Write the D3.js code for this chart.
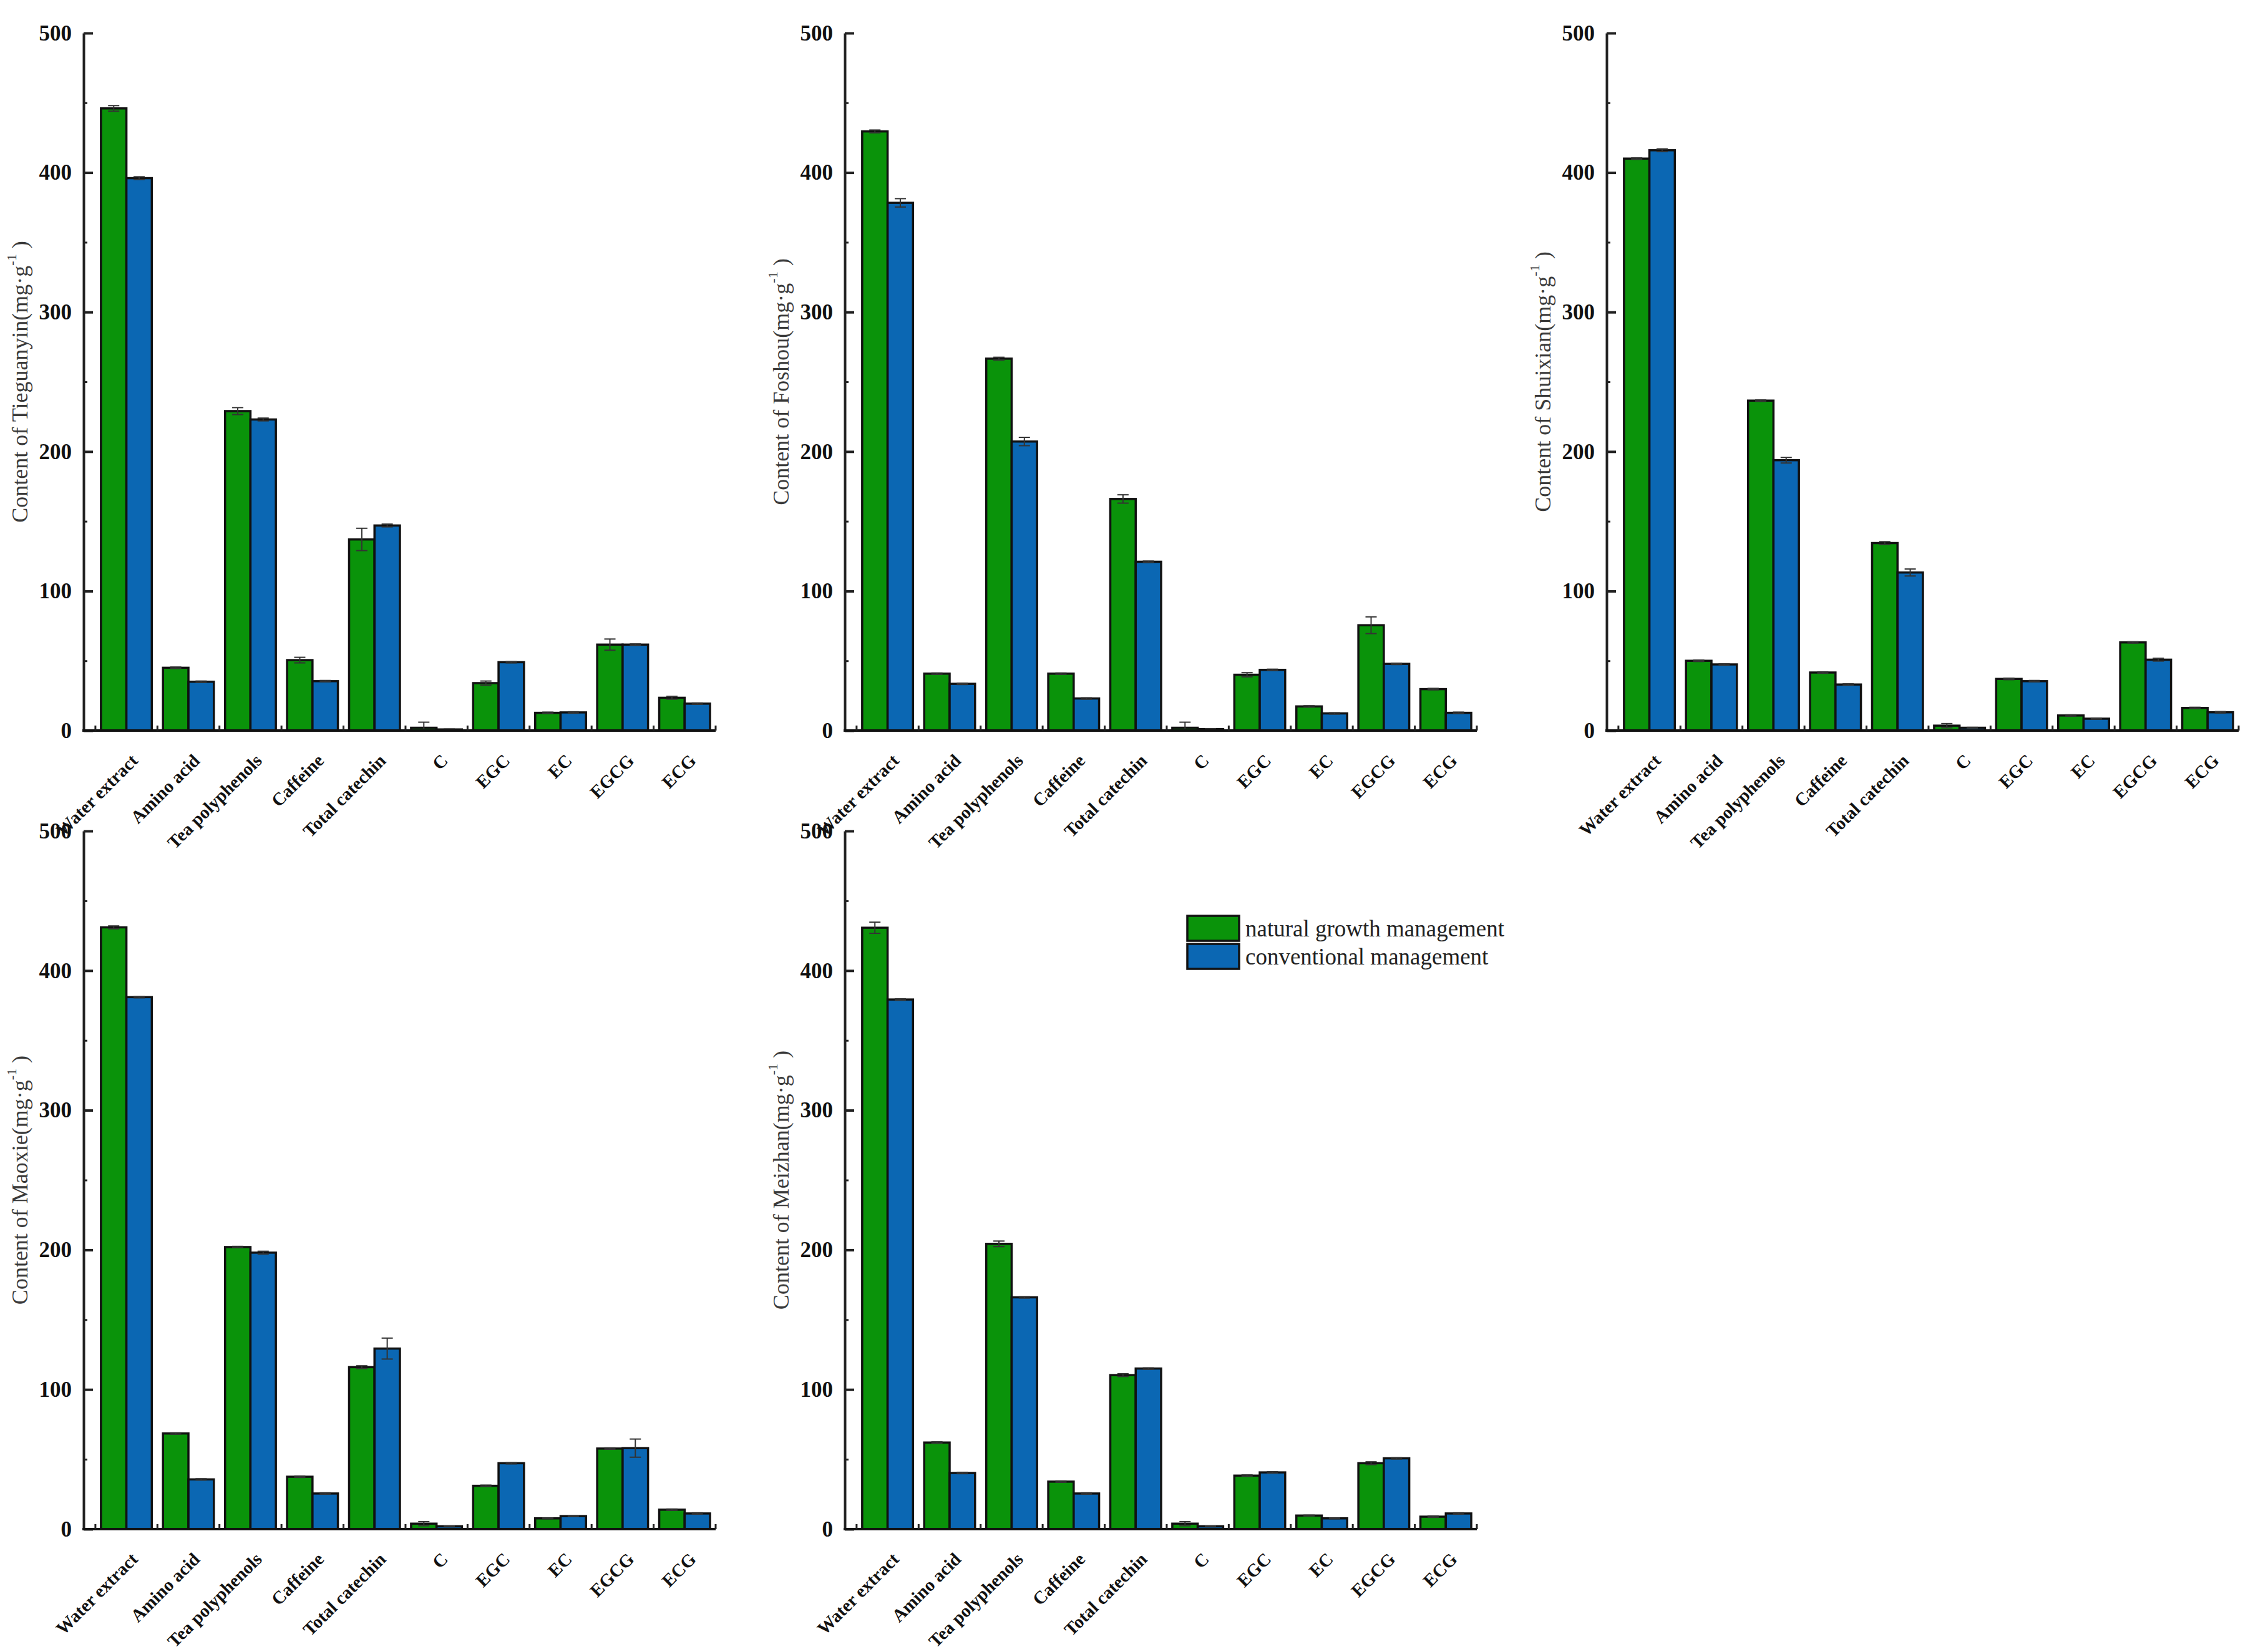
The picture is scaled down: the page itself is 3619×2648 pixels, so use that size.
<!DOCTYPE html>
<html>
<head>
<meta charset="utf-8">
<script src="https://cdn.jsdelivr.net/npm/d3@7"></script>
<style>
  html, body { margin: 0; padding: 0; background: #fff; }
  svg { display: block; }
</style>
</head>
<body>
<svg id="chart" width="3619" height="2648"></svg>
<script>
// ---------------- DATA ----------------
const categories = ["Water extract", "Amino acid", "Tea polyphenols", "Caffeine", "Total catechin", "C", "EGC", "EC", "EGCG", "ECG"];
const seriesNames = ["natural growth management", "conventional management"];
const yTicks = [0, 100, 200, 300, 400, 500];
const yMinorTicks = [50, 150, 250, 350, 450];

const teaNames = ["Tieguanyin", "Foshou", "Shuixian", "Maoxie", "Meizhan"];

const tieguanyinNatural      = [446, 45, 229, 50.5, 137, 2, 34, 12.7, 61.6, 23.5];
const tieguanyinNaturalErr   = [2, 0.5, 2.5, 2, 8, 4, 1.5, 0.5, 4, 1];
const tieguanyinConvention   = [396, 35, 223, 35.4, 147, 0.8, 49, 13, 61.6, 19.3];
const tieguanyinConventErr   = [1, 0.5, 1, 0.5, 1, 0.3, 0.5, 0.5, 0.5, 0.5];

const foshouNatural          = [429.5, 40.8, 266.6, 40.8, 166, 2, 40, 17.3, 75.5, 29.7];
const foshouNaturalErr       = [1, 0.5, 1, 0.5, 3, 4, 1.5, 0.5, 6, 0.5];
const foshouConvention       = [378.3, 33.5, 207.2, 23, 121, 1, 43.5, 12.3, 47.8, 12.7];
const foshouConventErr       = [3, 0.5, 3, 0.5, 0.5, 0.3, 0.5, 0.5, 0.5, 0.5];

const shuixianNatural        = [410, 50, 236.5, 41.6, 134.4, 3.5, 37, 10.8, 63.2, 16.2];
const shuixianNaturalErr     = [0.5, 0.5, 0.5, 0.5, 1, 1.5, 0.5, 0.5, 0.5, 0.5];
const shuixianConvention     = [416, 47.4, 193.8, 33, 113.3, 2, 35.4, 8.5, 50.8, 13.1];
const shuixianConventErr     = [1, 0.5, 2, 0.5, 2.5, 0.3, 0.5, 0.3, 1, 0.5];

const maoxieNatural          = [431, 68.5, 202, 37.5, 116, 3.9, 31, 7.7, 57.7, 13.9];
const maoxieNaturalErr       = [1, 0.5, 0.5, 0.5, 1, 1.5, 0.5, 0.3, 0.5, 0.5];
const maoxieConvention       = [381, 35.6, 198, 25.5, 129.3, 2, 47.2, 9.3, 58, 11.2];
const maoxieConventErr       = [0.5, 0.5, 1, 0.5, 7.5, 0.3, 0.5, 0.3, 6.5, 0.5];

const meizhanNatural         = [430.7, 62, 204.3, 34, 110.3, 3.9, 38.3, 9.7, 47.2, 8.9];
const meizhanNaturalErr      = [4, 0.5, 2, 0.5, 1, 1.5, 0.5, 0.3, 1, 0.5];
const meizhanConvention      = [379.3, 40.2, 166, 25.5, 115, 2, 40.6, 7.7, 50.7, 11.2];
const meizhanConventErr      = [0.5, 0.5, 0.5, 0.5, 0.5, 0.3, 0.5, 0.3, 0.5, 0.5];

// ---------------- LAYOUT / STYLE ----------------
const colors = ["#0a930a", "#0b67b3"];
const W = 1013;            // axis length
const lead = 0.19;         // leading offset in bands before first category boundary
const panels = [
  { name: teaNames[0], vals: [tieguanyinNatural, tieguanyinConvention], errs: [tieguanyinNaturalErr, tieguanyinConventErr], x0: 134,  top: 53,   bottom: 1171 },
  { name: teaNames[1], vals: [foshouNatural, foshouConvention],         errs: [foshouNaturalErr, foshouConventErr],         x0: 1354, top: 53,   bottom: 1171 },
  { name: teaNames[2], vals: [shuixianNatural, shuixianConvention],     errs: [shuixianNaturalErr, shuixianConventErr],     x0: 2575, top: 53,   bottom: 1171 },
  { name: teaNames[3], vals: [maoxieNatural, maoxieConvention],         errs: [maoxieNaturalErr, maoxieConventErr],         x0: 134,  top: 1332, bottom: 2451 },
  { name: teaNames[4], vals: [meizhanNatural, meizhanConvention],       errs: [meizhanNaturalErr, meizhanConventErr],       x0: 1354, top: 1332, bottom: 2451 }
];

const svg = d3.select("#chart");
svg.append("rect").attr("width", 3619).attr("height", 2648).attr("fill", "#fff");

const FONT = "'Liberation Serif', 'Times New Roman', serif";

panels.forEach(p => {
  const band = W / (categories.length + lead);
  const x = d3.scaleBand().domain(categories).range([p.x0 + lead * band, p.x0 + W]).paddingInner(0).paddingOuter(0);
  const xs = d3.scaleBand().domain([0, 1]).range([0, x.bandwidth()]).paddingInner(0).paddingOuter(0.22);
  const y = d3.scaleLinear().domain([0, 500]).range([p.bottom, p.top]);

  const g = svg.append("g");

  // bars
  const rows = [];
  categories.forEach((c, i) => [0, 1].forEach(s => rows.push({ c, s, v: p.vals[s][i], e: p.errs[s][i] })));

  g.selectAll("rect.bar").data(rows).enter().append("rect")
    .attr("class", "bar")
    .attr("x", d => x(d.c) + xs(d.s))
    .attr("y", d => y(d.v))
    .attr("width", xs.bandwidth())
    .attr("height", d => y(0) - y(d.v))
    .attr("fill", d => colors[d.s])
    .attr("stroke", "#111")
    .attr("stroke-width", 3.5);

  // error bars
  const eg = g.selectAll("g.err").data(rows).enter().append("g").attr("class", "err")
    .attr("stroke", "#333").attr("stroke-width", 2);
  eg.append("line")
    .attr("x1", d => x(d.c) + xs(d.s) + xs.bandwidth() / 2)
    .attr("x2", d => x(d.c) + xs(d.s) + xs.bandwidth() / 2)
    .attr("y1", d => y(d.v + d.e)).attr("y2", d => y(Math.max(0, d.v - d.e)));
  eg.append("line")
    .attr("x1", d => x(d.c) + xs(d.s) + xs.bandwidth() / 2 - 9)
    .attr("x2", d => x(d.c) + xs(d.s) + xs.bandwidth() / 2 + 9)
    .attr("y1", d => y(d.v + d.e)).attr("y2", d => y(d.v + d.e));
  eg.append("line")
    .attr("x1", d => x(d.c) + xs(d.s) + xs.bandwidth() / 2 - 9)
    .attr("x2", d => x(d.c) + xs(d.s) + xs.bandwidth() / 2 + 9)
    .attr("y1", d => y(Math.max(0, d.v - d.e))).attr("y2", d => y(Math.max(0, d.v - d.e)));

  // y axis (major)
  const yAxis = d3.axisLeft(y).tickValues(yTicks).tickSizeInner(-15).tickSizeOuter(0).tickPadding(19);
  const ya = g.append("g").attr("transform", `translate(${p.x0},0)`).call(yAxis);
  ya.select(".domain").attr("stroke", "#222").attr("stroke-width", 4);
  ya.selectAll(".tick line").attr("stroke", "#222").attr("stroke-width", 4);
  ya.selectAll(".tick text")
    .attr("font-family", FONT).attr("font-weight", "bold").attr("font-size", 35).attr("fill", "#111");

  // y axis (minor)
  const yMinor = d3.axisLeft(y).tickValues(yMinorTicks).tickSizeInner(-6).tickSizeOuter(0).tickFormat("");
  const ym = g.append("g").attr("transform", `translate(${p.x0},0)`).call(yMinor);
  ym.select(".domain").remove();
  ym.selectAll(".tick line").attr("stroke", "#222").attr("stroke-width", 3);

  // x axis line
  g.append("line")
    .attr("x1", p.x0 - 2).attr("x2", p.x0 + W)
    .attr("y1", y(0)).attr("y2", y(0))
    .attr("stroke", "#111").attr("stroke-width", 4);

  // x boundary ticks (pointing up)
  const bounds = categories.map(c => x(c)).concat([x(categories[categories.length - 1]) + x.bandwidth()]);
  g.selectAll("line.xt").data(bounds).enter().append("line")
    .attr("class", "xt")
    .attr("x1", d => d).attr("x2", d => d)
    .attr("y1", y(0)).attr("y2", y(0) - 8)
    .attr("stroke", "#222").attr("stroke-width", 3);

  // category labels
  g.selectAll("text.cat").data(categories).enter().append("text")
    .attr("class", "cat")
    .attr("text-anchor", "end")
    .attr("transform", c => `translate(${x(c) + x.bandwidth() / 2 + 20},${y(0) + 50}) rotate(-45)`)
    .attr("font-family", FONT).attr("font-weight", "bold").attr("font-size", 29).attr("fill", "#111")
    .text(c => c);

  // y title
  const tx = p.x0 - 102, ty = (p.top + p.bottom) / 2;
  const t = g.append("text")
    .attr("transform", `translate(${tx},${ty}) rotate(-90)`)
    .attr("text-anchor", "middle")
    .attr("dominant-baseline", "central")
    .attr("font-family", FONT).attr("font-size", 36).attr("fill", "#3a3a3a");
  t.append("tspan").text(`Content of ${p.name}(mg·g`);
  t.append("tspan").attr("font-size", 22).attr("dy", -14).text("-1");
  t.append("tspan").attr("dy", 14).text(" )");
});

// legend
const legend = svg.append("g").attr("transform", "translate(1903,1468)");
seriesNames.forEach((n, i) => {
  legend.append("rect")
    .attr("x", 0).attr("y", i * 45)
    .attr("width", 83).attr("height", 40)
    .attr("fill", colors[i]).attr("stroke", "#111").attr("stroke-width", 3.5);
  legend.append("text")
    .attr("x", 93).attr("y", i * 45 + 20)
    .attr("dominant-baseline", "central")
    .attr("font-family", FONT).attr("font-size", 37).attr("fill", "#222")
    .text(n);
});
</script>
</body>
</html>
